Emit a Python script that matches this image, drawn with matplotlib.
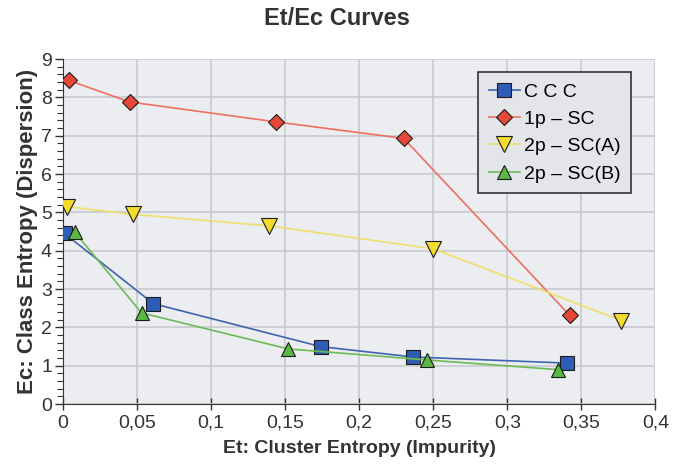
import matplotlib
matplotlib.use("Agg")
import matplotlib.pyplot as plt
from matplotlib.ticker import FuncFormatter, MultipleLocator

plt.rcParams["font.family"] = ["Liberation Sans", "DejaVu Sans"]

ccc_x = [0.001, 0.061, 0.174, 0.236, 0.340]
ccc_y = [4.45, 2.62, 1.50, 1.23, 1.07]

sc1_x = [0.004, 0.045, 0.144, 0.230, 0.342]
sc1_y = [8.44, 7.88, 7.36, 6.93, 2.32]

sca_x = [0.003, 0.047, 0.139, 0.250, 0.377]
sca_y = [5.15, 4.95, 4.65, 4.05, 2.18]

scb_x = [0.008, 0.053, 0.152, 0.246, 0.334]
scb_y = [4.48, 2.38, 1.44, 1.15, 0.90]

fig = plt.figure(figsize=(6.74, 4.76), dpi=100)
ax = fig.add_axes([0.0935, 0.151, 0.879, 0.725])
ax.set_facecolor("#ebedf1")

ax.plot(ccc_x, ccc_y, color="#3d64b0", lw=1.2, marker="s", ms=10,
        mfc="#2f5db5", mec="#1a1a1a", mew=0.8, label="C C C", zorder=3)
ax.plot(sc1_x, sc1_y, color="#ee6f5f", lw=1.2, marker="D", ms=8,
        mfc="#e8473a", mec="#1a1a1a", mew=0.8, label="1p – SC", zorder=3)
ax.plot(sca_x, sca_y, color="#f0de6a", lw=1.2, marker="v", ms=11,
        mfc="#f3dc2c", mec="#1a1a1a", mew=0.8, label="2p – SC(A)", zorder=3)
ax.plot(scb_x, scb_y, color="#6dbb55", lw=1.2, marker="^", ms=10,
        mfc="#5cb844", mec="#1a1a1a", mew=0.8, label="2p – SC(B)", zorder=3)

ax.set_xlim(0, 0.4)
ax.set_ylim(0, 9)
ax.xaxis.set_major_locator(MultipleLocator(0.05))
ax.yaxis.set_major_locator(MultipleLocator(1))
ax.yaxis.set_minor_locator(MultipleLocator(0.2))


def comma(v, pos):
    s = f"{v:.2f}".rstrip("0").rstrip(".")
    return s.replace(".", ",")


ax.xaxis.set_major_formatter(FuncFormatter(comma))
ax.grid(True, color="#c9cacf", lw=1.2)
ax.set_axisbelow(True)
for side in ["top", "right"]:
    ax.spines[side].set_visible(False)
for side in ["left", "bottom"]:
    ax.spines[side].set_color("#333333")
ax.tick_params(axis="both", labelsize=14, colors="#333333", length=6, width=1)
ax.tick_params(axis="y", which="minor", length=4, width=0.8, colors="#333333")
ax.tick_params(axis="y", pad=2)
ax.tick_params(axis="x", direction="inout", length=8)

ax.set_xlabel("Et: Cluster Entropy (Impurity)", fontsize=14, fontweight="bold",
              color="#333333", labelpad=6)
ax.set_ylabel("Ec: Class Entropy (Dispersion)", fontsize=16, fontweight="bold",
              color="#333333", labelpad=2)
fig.suptitle("Et/Ec Curves", fontsize=17, fontweight="bold", color="#333333", y=0.985)

leg = ax.legend(loc="upper right", bbox_to_anchor=(0.975, 0.99), fontsize=14,
                frameon=True, fancybox=False, handlelength=1.6, handletextpad=0.2,
                labelspacing=0.5, borderpad=0.55)
leg.get_frame().set_facecolor("#e4e5e9")
leg.get_frame().set_edgecolor("#333333")
leg.get_frame().set_linewidth(1.2)
leg.get_frame().set_alpha(1)

fig.savefig("out.png", dpi=100)
